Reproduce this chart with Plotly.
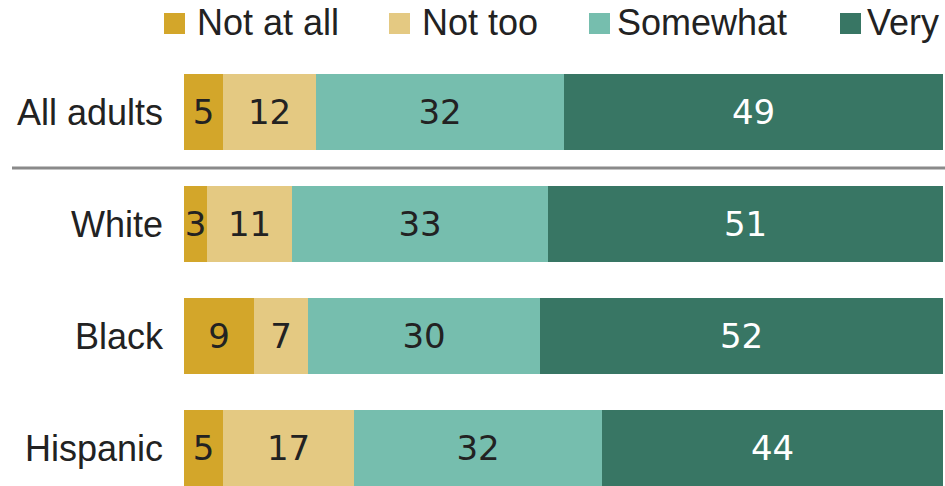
import plotly.graph_objects as go

# Survey responses by group (percent)
groups = ["All adults", "White", "Black", "Hispanic"]
responses = ["Not at all", "Not too", "Somewhat", "Very"]
not_at_all = [5, 3, 9, 5]
not_too = [12, 11, 7, 17]
somewhat = [32, 33, 30, 32]
very = [49, 51, 52, 44]

series = [not_at_all, not_too, somewhat, very]
colors = ["#d3a62a", "#e4c982", "#76beae", "#387664"]
text_colors = ["#222222", "#222222", "#222222", "#ffffff"]

W, H = 945, 486
positions = list(range(len(groups)))

fig = go.Figure()
for name, vals, col, tcol in zip(responses, series, colors, text_colors):
    fig.add_trace(go.Bar(
        y=positions, x=vals, name=name, orientation="h",
        marker=dict(color=col, line=dict(width=0)),
        width=0.67,
        text=vals, texttemplate="%{x}",
        textposition="inside", insidetextanchor="middle",
        constraintext="none", textangle=0,
        textfont=dict(family="DejaVu Sans", size=34, color=tcol),
        showlegend=False, hoverinfo="x+name",
    ))

# Row spacing: first bar centre 112 px from the top, 112 px per row
row_px, first_px = 112.0, 112.0
y_top = -first_px / row_px
y_bottom = (H - first_px) / row_px

fig.update_layout(
    width=W, height=H,
    margin=dict(l=0, r=0, t=0, b=0),
    barmode="stack", bargap=0,
    plot_bgcolor="white", paper_bgcolor="white",
    xaxis=dict(domain=[184 / W, 943 / W], range=[0, 98], visible=False, fixedrange=True),
    yaxis=dict(
        domain=[0, 1], range=[y_bottom, y_top],
        tickvals=positions, ticktext=groups, ticks="",
        ticklabelstandoff=20,
        showgrid=False, zeroline=False, showline=False,
        tickfont=dict(family="Liberation Sans, Arial, sans-serif", size=36, color="#222222"),
        fixedrange=True,
    ),
)

# Separator between the total row and the subgroups
fig.add_shape(type="line", xref="paper", yref="y",
              x0=12 / W, x1=1, y0=0.5, y1=0.5,
              line=dict(color="#8a8a8a", width=3))

# Legend row across the top
square_left = [164, 389, 589, 840]
text_left = [195, 420, 615, 865]
sq, sq_top = 21, 13
for name, col, sx, tx in zip(responses, colors, square_left, text_left):
    fig.add_shape(type="rect", xref="paper", yref="paper",
                  x0=sx / W, x1=(sx + sq) / W,
                  y0=1 - (sq_top + sq) / H, y1=1 - sq_top / H,
                  fillcolor=col, line=dict(width=0))
    fig.add_annotation(xref="paper", yref="paper", x=tx / W, y=1 - 22 / H,
                       text=name, showarrow=False, xanchor="left", yanchor="middle",
                       font=dict(family="Liberation Sans, Arial, sans-serif", size=36, color="#222222"))

fig.write_html("out.html")
